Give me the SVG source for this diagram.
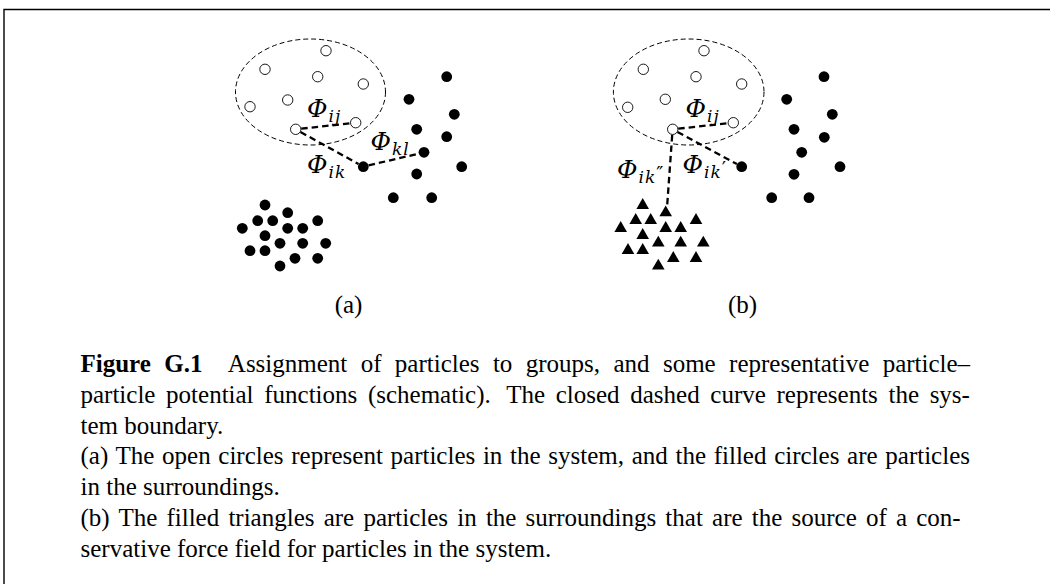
<svg xmlns="http://www.w3.org/2000/svg" xmlns:xlink="http://www.w3.org/1999/xlink" width="1050" height="584" viewBox="0 0 1050 584">
<style>
.frame{fill:none;stroke:#000;stroke-width:1.4}
.bound{fill:none;stroke:#000;stroke-width:1;stroke-dasharray:5 3}
.open{fill:#fff;stroke:#000;stroke-width:0.9}
.fill{fill:#000}
.conn{fill:none;stroke:#000;stroke-width:2.3;stroke-dasharray:6.5 4}
.phi{font-family:"DejaVu Serif",serif;font-style:italic;font-size:25px;fill:#000}
.sub{font-size:17px;letter-spacing:1px}
.pr{font-size:19px;font-style:normal}
.cap{font-family:"Liberation Serif","Times New Roman",serif;font-size:25px;fill:#000}
</style>
<defs>
<path id="tri" d="M0,-6.2 L6.3,4.6 L-6.3,4.6 Z" fill="#000"/>
</defs>
<rect width="1050" height="584" fill="#fff"/>
<path class="frame" d="M4,584 V9.5 H1050"/>

<g id="panel-a">
  <g id="boundary-a"><ellipse class="bound" cx="310.5" cy="92" rx="75" ry="53"/></g>
  <g id="system-a">
    <circle class="open" cx="326" cy="50.7" r="5.2"/>
    <circle class="open" cx="265" cy="69.3" r="5.2"/>
    <circle class="open" cx="317.7" cy="76.7" r="5.2"/>
    <circle class="open" cx="363.3" cy="84" r="5.2"/>
    <circle class="open" cx="287.7" cy="100" r="5.2"/>
    <circle class="open" cx="250" cy="106.7" r="5.2"/>
    <circle id="a-j" class="open" cx="355.7" cy="122.7" r="5.2"/>
    <circle id="a-i" class="open" cx="295.7" cy="129.3" r="5.2"/>
  </g>
  <g id="surroundings-a">
    <circle class="fill" cx="446.7" cy="76.7" r="5.4"/>
    <circle class="fill" cx="409" cy="99.3" r="5.4"/>
    <circle class="fill" cx="454.3" cy="114.3" r="5.4"/>
    <circle class="fill" cx="416.7" cy="129.3" r="5.4"/>
    <circle class="fill" cx="446.7" cy="136.7" r="5.4"/>
    <circle id="a-l" class="fill" cx="424" cy="152.3" r="5.4"/>
    <circle id="a-k" class="fill" cx="363.3" cy="166.7" r="5.4"/>
    <circle class="fill" cx="461.7" cy="166.7" r="5.4"/>
    <circle class="fill" cx="416.7" cy="174" r="5.4"/>
    <circle class="fill" cx="393.3" cy="197.7" r="5.4"/>
    <circle class="fill" cx="431.7" cy="197.7" r="5.4"/>
  </g>
  <g id="cluster-a">
    <circle class="fill" cx="265" cy="205" r="5.4"/>
    <circle class="fill" cx="287.7" cy="212.7" r="5.4"/>
    <circle class="fill" cx="257.7" cy="220.7" r="5.4"/>
    <circle class="fill" cx="272.7" cy="220.7" r="5.4"/>
    <circle class="fill" cx="317.7" cy="220.7" r="5.4"/>
    <circle class="fill" cx="242.3" cy="228.3" r="5.4"/>
    <circle class="fill" cx="287.7" cy="228.3" r="5.4"/>
    <circle class="fill" cx="302.7" cy="228.3" r="5.4"/>
    <circle class="fill" cx="265" cy="235.7" r="5.4"/>
    <circle class="fill" cx="280" cy="243.3" r="5.4"/>
    <circle class="fill" cx="302.7" cy="243.3" r="5.4"/>
    <circle class="fill" cx="325.7" cy="243.3" r="5.4"/>
    <circle class="fill" cx="250" cy="250.7" r="5.4"/>
    <circle class="fill" cx="265" cy="250.7" r="5.4"/>
    <circle class="fill" cx="295" cy="258.3" r="5.4"/>
    <circle class="fill" cx="317.7" cy="258.3" r="5.4"/>
    <circle class="fill" cx="280" cy="266" r="5.4"/>
  </g>
  <g id="labels-a">
    <text class="phi" x="307" y="117">Φ<tspan class="sub" dx="1" dy="5">ij</tspan></text>
    <text class="phi" x="370.5" y="150">Φ<tspan class="sub" dx="1" dy="5">kl</tspan></text>
    <text class="phi" x="307" y="172.5">Φ<tspan class="sub" dx="1" dy="5">ik</tspan></text>
  </g>
  <text class="cap" x="348.5" y="312.5" text-anchor="middle">(a)</text>
</g>

<g id="panel-b">
  <g id="boundary-b"><ellipse class="bound" cx="688.7" cy="92" rx="75.3" ry="53"/></g>
  <g id="system-b">
    <circle class="open" cx="704" cy="50.7" r="5.2"/>
    <circle class="open" cx="643.3" cy="69.3" r="5.2"/>
    <circle class="open" cx="696" cy="76.7" r="5.2"/>
    <circle class="open" cx="741.7" cy="84" r="5.2"/>
    <circle class="open" cx="665.3" cy="99.3" r="5.2"/>
    <circle class="open" cx="627.7" cy="107.3" r="5.2"/>
    <circle id="b-j" class="open" cx="733.3" cy="122.7" r="5.2"/>
    <circle id="b-i" class="open" cx="672.7" cy="129.3" r="5.2"/>
  </g>
  <g id="surroundings-b">
    <circle class="fill" cx="824" cy="76.7" r="5.4"/>
    <circle class="fill" cx="786.7" cy="99.3" r="5.4"/>
    <circle class="fill" cx="832.3" cy="114.3" r="5.4"/>
    <circle class="fill" cx="794" cy="129.3" r="5.4"/>
    <circle class="fill" cx="824.3" cy="137.3" r="5.4"/>
    <circle class="fill" cx="801.7" cy="152.3" r="5.4"/>
    <circle id="b-k1" class="fill" cx="741.7" cy="166.7" r="5.4"/>
    <circle class="fill" cx="840" cy="166.7" r="5.4"/>
    <circle class="fill" cx="794" cy="174.3" r="5.4"/>
    <circle class="fill" cx="771.7" cy="197.7" r="5.4"/>
    <circle class="fill" cx="809" cy="197.7" r="5.4"/>
  </g>
  <g id="triangles-b">
    <use xlink:href="#tri" href="#tri" x="642.7" y="204.3"/>
    <use id="b-k2" xlink:href="#tri" href="#tri" x="665.7" y="211.7"/>
    <use xlink:href="#tri" href="#tri" x="635.7" y="219.3"/>
    <use xlink:href="#tri" href="#tri" x="650.7" y="219.3"/>
    <use xlink:href="#tri" href="#tri" x="696" y="219.3"/>
    <use xlink:href="#tri" href="#tri" x="620.7" y="227.3"/>
    <use xlink:href="#tri" href="#tri" x="665.7" y="227.3"/>
    <use xlink:href="#tri" href="#tri" x="680.7" y="227.3"/>
    <use xlink:href="#tri" href="#tri" x="642.7" y="234.3"/>
    <use xlink:href="#tri" href="#tri" x="658.3" y="242"/>
    <use xlink:href="#tri" href="#tri" x="680.7" y="242"/>
    <use xlink:href="#tri" href="#tri" x="703.3" y="242"/>
    <use xlink:href="#tri" href="#tri" x="628" y="249.3"/>
    <use xlink:href="#tri" href="#tri" x="642.7" y="249.3"/>
    <use xlink:href="#tri" href="#tri" x="673.3" y="257.3"/>
    <use xlink:href="#tri" href="#tri" x="696" y="257.3"/>
    <use xlink:href="#tri" href="#tri" x="658.3" y="265"/>
  </g>
  <g id="labels-b">
    <text class="phi" x="685.5" y="117">Φ<tspan class="sub" dx="1" dy="5">ij</tspan></text>
    <text class="phi" x="682.5" y="173">Φ<tspan class="sub" dx="1" dy="5">ik<tspan class="pr" dy="-3">′</tspan></tspan></text>
    <text class="phi" x="617" y="178">Φ<tspan class="sub" dx="1" dy="5">ik<tspan class="pr" dy="-3">″</tspan></tspan></text>
  </g>
  <text class="cap" x="742.5" y="312.5" text-anchor="middle">(b)</text>
</g>

<g id="connectors">
  <line class="conn" x1="301.2" y1="128.7" x2="350.2" y2="123.3"/>
  <line class="conn" x1="300.5" y1="132" x2="358.5" y2="164"/>
  <line class="conn" x1="368.6" y1="165.4" x2="418.7" y2="153.6"/>
  <line class="conn" x1="678.2" y1="128.7" x2="727.8" y2="123.3"/>
  <line class="conn" x1="677.5" y1="131.9" x2="736.9" y2="164.1"/>
  <line class="conn" x1="672.2" y1="135" x2="667.2" y2="205"/>
</g>

<g id="caption">
  <text class="cap" x="80.5" y="372" word-spacing="7.13"><tspan font-weight="bold">Figure G.1</tspan><tspan dx="13.4"> Assignment of particles to groups, and some representative particle–</tspan></text>
  <text class="cap" x="80.5" y="402.8" word-spacing="4.39">particle potential functions (schematic).<tspan dx="5.3"> The closed dashed curve represents the sys-</tspan></text>
  <text class="cap" x="80.5" y="433.6">tem boundary.</text>
  <text class="cap" x="80.5" y="464.4" word-spacing="1.44">(a) The open circles represent particles in the system, and the filled circles are particles</text>
  <text class="cap" x="80.5" y="495.2">in the surroundings.</text>
  <text class="cap" x="80.5" y="526" word-spacing="2.94">(b) The filled triangles are particles in the surroundings that are the source of a con-</text>
  <text class="cap" x="80.5" y="556.8">servative force field for particles in the system.</text>
</g>
</svg>
